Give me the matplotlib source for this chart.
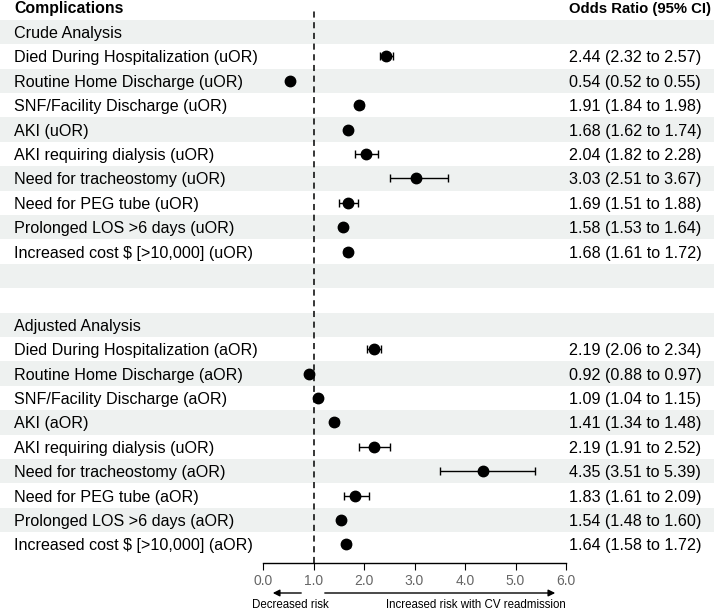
import matplotlib.pyplot as plt
from matplotlib.patches import Rectangle

plt.rcParams['font.family'] = ['Liberation Sans', 'DejaVu Sans']

# rows, top to bottom ('' = spacer / section heading)
labels = [
    "Crude Analysis",
    "Died During Hospitalization (uOR)",
    "Routine Home Discharge (uOR)",
    "SNF/Facility Discharge (uOR)",
    "AKI (uOR)",
    "AKI requiring dialysis (uOR)",
    "Need for tracheostomy (uOR)",
    "Need for PEG tube (uOR)",
    "Prolonged LOS >6 days (uOR)",
    "Increased cost $ [>10,000] (uOR)",
    "",
    "",
    "Adjusted Analysis",
    "Died During Hospitalization (aOR)",
    "Routine Home Discharge (aOR)",
    "SNF/Facility Discharge (aOR)",
    "AKI (aOR)",
    "AKI requiring dialysis (uOR)",
    "Need for tracheostomy (aOR)",
    "Need for PEG tube (aOR)",
    "Prolonged LOS >6 days (aOR)",
    "Increased cost $ [>10,000] (aOR)",
]
odds = [None, 2.44, 0.54, 1.91, 1.68, 2.04, 3.03, 1.69, 1.58, 1.68, None, None,
        None, 2.19, 0.92, 1.09, 1.41, 2.19, 4.35, 1.83, 1.54, 1.64]
lower = [None, 2.32, 0.52, 1.84, 1.62, 1.82, 2.51, 1.51, 1.53, 1.61, None, None,
         None, 2.06, 0.88, 1.04, 1.34, 1.91, 3.51, 1.61, 1.48, 1.58]
upper = [None, 2.57, 0.55, 1.98, 1.74, 2.28, 3.67, 1.88, 1.64, 1.72, None, None,
         None, 2.34, 0.97, 1.15, 1.48, 2.52, 5.39, 2.09, 1.60, 1.72]
xticks = [0, 1, 2, 3, 4, 5, 6]

W, H = 714, 610
fig = plt.figure(figsize=(W / 100, H / 100), dpi=100)

# background axes in pixel coordinates
bg = fig.add_axes([0, 0, 1, 1])
bg.set_xlim(0, W)
bg.set_ylim(H, 0)
bg.axis('off')

y0, dy = 32, 24.4
ys = [y0 + i * dy for i in range(len(labels))]
fs = 11.6

for i, y in enumerate(ys):
    if i % 2 == 0:
        bg.add_patch(Rectangle((0, y - dy / 2), W, dy, color='#eef1f0', lw=0, zorder=0))
    if labels[i]:
        bg.text(14, y + 1.5, labels[i], fontsize=fs, va='center', ha='left')
    if odds[i] is not None:
        bg.text(569, y + 1.5, f"{odds[i]:.2f} ({lower[i]:.2f} to {upper[i]:.2f})",
                fontsize=fs, va='center', ha='left')

bg.text(14, 9, "Complications", fontsize=11.4, fontweight='bold', va='center')
bg.text(569, 9, "Odds Ratio (95% CI)", fontsize=10.7, fontweight='bold', va='center')

# forest axes: x 0..6 between pixels 263 and 566, y in pixels 10..563
top, bottom = 10, 563
ax = fig.add_axes([263 / W, (H - bottom) / H, (566 - 263) / W, (bottom - top) / H])
ax.patch.set_alpha(0)
ax.set_xlim(0, 6)
ax.set_ylim(bottom, top)
for s in ['top', 'right', 'left']:
    ax.spines[s].set_visible(False)
ax.spines['bottom'].set_linewidth(1.0)
ax.set_yticks([])
ax.set_xticks(xticks)
ax.set_xticklabels([f"{t:.1f}" for t in xticks])
ax.tick_params(axis='x', labelsize=10, labelcolor='#666666', length=5, pad=3)
ax.axvline(1, color='black', ls=(0, (4, 3)), lw=1.1)

for i, y in enumerate(ys):
    if odds[i] is None:
        continue
    ax.errorbar(odds[i], y, xerr=[[odds[i] - lower[i]], [upper[i] - odds[i]]],
                fmt='o', color='black', ms=7.5, capsize=3, elinewidth=1, capthick=1)

# risk direction arrows
bg.annotate('', xy=(270, 593), xytext=(304, 593),
            arrowprops=dict(arrowstyle='-|>', color='black', lw=1, mutation_scale=10))
bg.annotate('', xy=(558, 593), xytext=(322, 593),
            arrowprops=dict(arrowstyle='-|>', color='black', lw=1, mutation_scale=10))
bg.text(290, 605, "Decreased risk", fontsize=8.3, ha='center', va='center')
bg.text(476, 605, "Increased risk with CV readmission", fontsize=8.3, ha='center', va='center')

fig.savefig('out.png', dpi=100)
